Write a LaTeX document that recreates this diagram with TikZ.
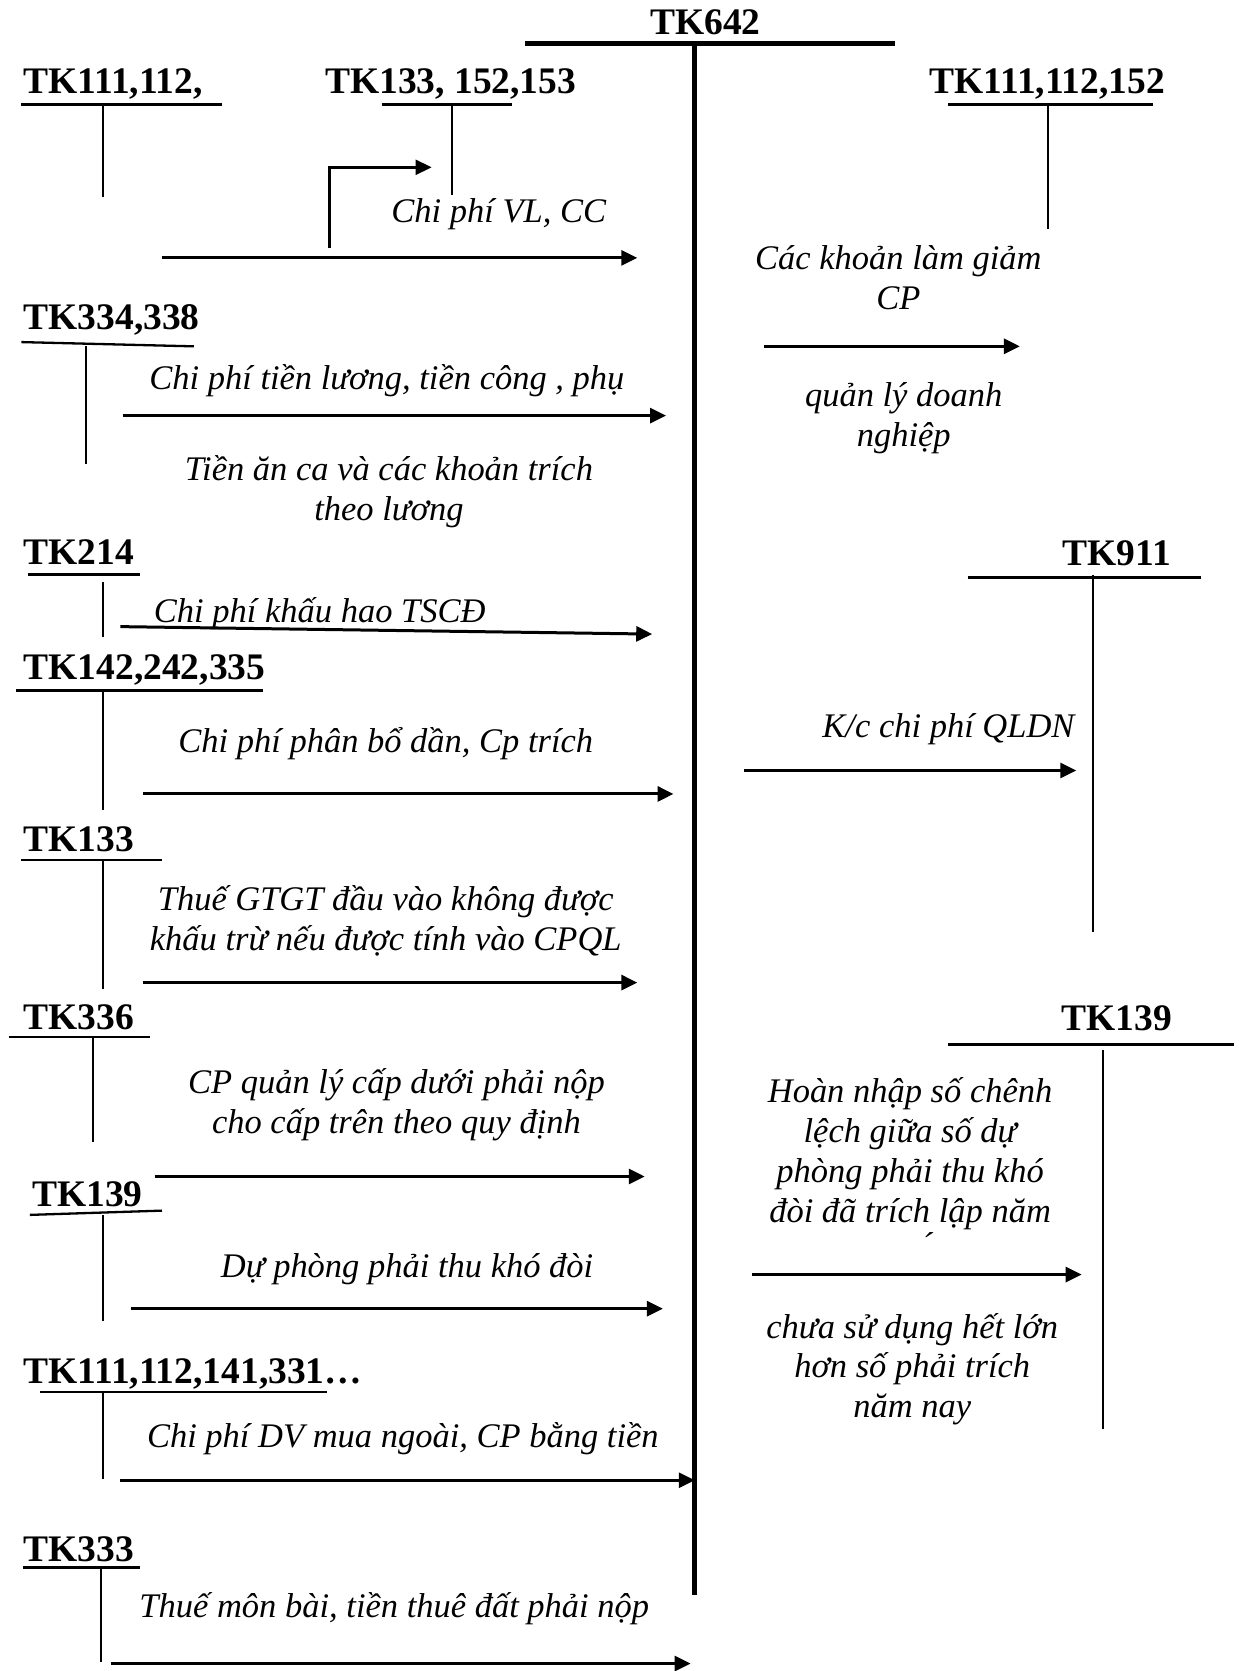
\documentclass[tikz,border=0pt]{standalone}
\usepackage{fontspec}
\setmainfont{Liberation Serif}
\usetikzlibrary{arrows.meta}
\begin{document}
\begin{tikzpicture}[x=1.066pt,y=-1.066pt,
  acc/.style={font=\bfseries\fontsize{37.5}{40}\selectfont, inner sep=0pt, anchor=base west},
  lbl/.style={font=\itshape\fontsize{34.5}{40}\selectfont, inner sep=0pt, align=center, yshift=-3pt},
  tline/.style={line width=2.3pt},
  stem/.style={line width=2pt},
  flow/.style={line width=3pt, -{Triangle[length=16pt,width=15pt]}},
  thinflow/.style={line width=2.4pt, -{Triangle[length=16pt,width=15pt]}},
  mainline/.style={line width=5pt}]
\useasboundingbox[fill=white] (0,0) rectangle (1168,1568);

% TK642
\node[acc, anchor=base] (t642) at (662,32) {TK642};
\coordinate (m1) at (493,41); \coordinate (m2) at (840,41);
\coordinate (mtop) at (652,41); \coordinate (mbot) at (652,1497);
\draw[mainline] (m1) -- (m2);
\draw[mainline] (mtop) -- (mbot);

% TK111,112,
\node[acc] (a1) at (22,88) {TK111,112,};
\draw[tline] (20,98) -- (208,98);
\draw[stem] (97,98) -- (97,185);

% TK133,152,153
\node[acc] (a2) at (305,88) {TK133, 152,153};
\draw[tline] (358,98) -- (480,98);
\draw[stem] (424,98) -- (424,183);
\coordinate (e0) at (309,233); \coordinate (e1) at (405,157);
\draw[thinflow] (e0) |- (e1);
\node[lbl] (l1) at (468,198) {Chi phí VL, CC};
\coordinate (f1a) at (152,242); \coordinate (f1b) at (598,242);
\draw[flow] (f1a) -- (f1b);

% TK111,112,152 right
\node[acc] (r1) at (872,88) {TK111,112,152};
\draw[tline] (890,98) -- (1082,98);
\draw[stem] (983,98) -- (983,215);
\node[lbl] (l2) at (843,258) {Các khoản làm giảm\\CP};
\coordinate (f2a) at (717,325); \coordinate (f2b) at (957,325);
\draw[flow] (f2a) -- (f2b);
\node[lbl] (l3) at (848,390) {quản lý doanh\\nghiệp};

% TK334,338
\node[acc] (a3) at (22,309) {TK334,338};
\draw[tline] (20,321) -- (182,325);
\draw[stem] (81,325) -- (81,435);
\node[lbl] (l4) at (363,354) {Chi phí tiền lương, tiền công , phụ};
\coordinate (f3a) at (115,390); \coordinate (f3b) at (625,390);
\draw[flow] (f3a) -- (f3b);
\node[lbl] (l5) at (365,459) {Tiền ăn ca và các khoản trích\\theo lương};

% TK214
\node[acc] (a4) at (22,530) {TK214};
\draw[tline] (26,539) -- (131,539);
\draw[stem] (97,546) -- (97,598);
\node[lbl] (l6) at (300,573) {Chi phí khấu hao TSCĐ};
\coordinate (f4a) at (113,588); \coordinate (f4b) at (612,595);
\draw[flow] (f4a) -- (f4b);

% TK142,242,335
\node[acc] (a5) at (22,638) {TK142,242,335};
\draw[tline] (15,648) -- (247,648);
\draw[stem] (97,648) -- (97,760);
\node[lbl] (l7) at (362,695) {Chi phí phân bổ dần, Cp trích};
\coordinate (f5a) at (134,745); \coordinate (f5b) at (632,745);
\draw[flow] (f5a) -- (f5b);

% TK133
\node[acc] (a6) at (22,799) {TK133};
\draw[tline] (20,807) -- (152,807);
\draw[stem] (97,807) -- (97,928);
\node[lbl] (l8) at (362,861) {Thuế GTGT đầu vào không được\\khấu trừ nếu được tính vào CPQL};
\coordinate (f6a) at (134,922); \coordinate (f6b) at (598,922);
\draw[flow] (f6a) -- (f6b);

% TK336
\node[acc] (a7) at (22,966) {TK336};
\draw[tline] (8,973) -- (141,973);
\draw[stem] (87,973) -- (87,1072);
\node[lbl] (l9) at (372,1034) {CP quản lý cấp dưới phải nộp\\cho cấp trên theo quy định};
\coordinate (f7a) at (145,1104); \coordinate (f7b) at (605,1104);
\draw[flow] (f7a) -- (f7b);

% TK139 left
\node[acc] (a8) at (30,1132) {TK139};
\draw[tline] (28,1140) -- (152,1136);
\draw[stem] (97,1140) -- (97,1240);
\node[lbl] (l10) at (382,1188) {Dự phòng phải thu khó đòi};
\coordinate (f8a) at (123,1228); \coordinate (f8b) at (622,1228);
\draw[flow] (f8a) -- (f8b);

% TK111,112,141,331...
\node[acc] (a9) at (22,1298) {TK111,112,141,331…};
\draw[tline] (38,1306) -- (307,1306);
\draw[stem] (97,1306) -- (97,1388);
\node[lbl] (l11) at (378,1347) {Chi phí DV mua ngoài, CP bằng tiền};
\coordinate (f9a) at (113,1389); \coordinate (f9b) at (652,1389);
\draw[flow] (f9a) -- (f9b);

% TK333
\node[acc] (a10) at (22,1465) {TK333};
\draw[tline] (22,1471) -- (131,1471);
\draw[stem] (95,1471) -- (95,1560);
\node[lbl] (l12) at (370,1507) {Thuế môn bài, tiền thuê đất phải nộp};
\coordinate (f10a) at (104,1561); \coordinate (f10b) at (648,1561);
\draw[flow] (f10a) -- (f10b);

% TK911
\node[acc] (r2) at (997,531) {TK911};
\draw[tline] (908,542) -- (1127,542);
\draw[stem] (1026,540) -- (1026,875);
\node[lbl] (l13) at (890,681) {K/c chi phí QLDN};
\coordinate (f11a) at (698,723); \coordinate (f11b) at (1010,723);
\draw[flow] (f11a) -- (f11b);

% TK139 right
\node[acc] (r3) at (996,967) {TK139};
\draw[tline] (890,980) -- (1158,980);
\draw[stem] (1035,985) -- (1035,1341);
\node[lbl] (l14) at (854,1080) {Hoàn nhập số chênh\\lệch giữa số dự\\phòng phải thu khó\\đòi đã trích lập năm};
\node[lbl] (l14b) at (870,1165) {´};
\coordinate (f12a) at (706,1196); \coordinate (f12b) at (1015,1196);
\draw[flow] (f12a) -- (f12b);
\node[lbl] (l15) at (856,1282) {chưa sử dụng hết lớn\\hơn số phải trích\\năm nay};
\end{tikzpicture}
\end{document}
